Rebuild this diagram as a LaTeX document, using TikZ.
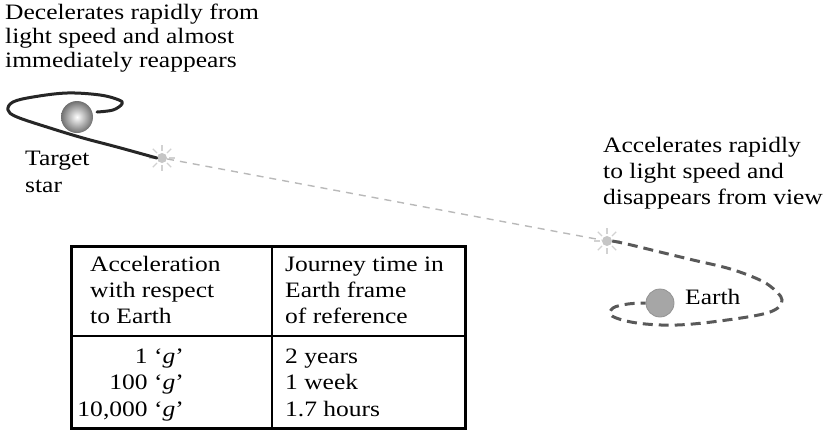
\documentclass[tikz,border=0pt]{standalone}
\usepackage{fontspec}
\setmainfont{Liberation Serif}[FakeStretch=1.16]
\begin{document}
\begin{tikzpicture}[x=1pt,y=-1pt,
  lbl/.style={inner sep=0pt, align=left, font=\fontsize{22}{25}\selectfont},
  flare/.style={circle, fill=gray!45, minimum size=10pt, inner sep=0pt},
  ray/.style={draw=gray!35, line width=1.2pt},
  flight/.style={draw=gray!55, line width=1.4pt, dash pattern=on 7pt off 6pt},
  orbit/.style={draw=black!85, line width=3pt, line cap=round, line join=round},
  homeorbit/.style={draw=black!65, line width=3pt, dash pattern=on 10pt off 6pt},
  rule/.style={line width=1.5pt},
  frame/.style={line width=3pt}]
\useasboundingbox (0,0) rectangle (824,432);

% captions (anchored on the baseline of their last line)
\node[lbl, anchor=base west, font=\fontsize{22}{24}\selectfont] (dec) at (5,67)
  {Decelerates rapidly from\\light speed and almost\\immediately reappears};
\node[lbl, anchor=base west, font=\fontsize{22}{27}\selectfont] (tgt) at (25,192) {Target\\star};
\node[lbl, anchor=base west, font=\fontsize{22}{26}\selectfont] (acc) at (603,204)
  {Accelerates rapidly\\to light speed and\\disappears from view};

% flare points where the ship vanishes and reappears
\node[flare] (s1) at (162,158) {};
\node[flare] (s2) at (607,241) {};
\foreach \s in {s1,s2}
  \foreach \a in {0,45,...,315}
    \draw[ray] (\s) ++(\a:7pt) -- ++(\a:6pt);

% light-speed leg
\draw[flight] (s1) -- (s2);

% target star and the braking loop around it
\draw[orbit] plot[smooth, tension=0.6] coordinates {
  (s1.west) (117,147) (83,138) (50,128) (17,117) (8,110) (13,102) (33,97)
  (67,93) (100,95) (119,100) (122,104) (113,110) (97,112)};
\node[circle, minimum size=32pt, inner sep=0pt, shading=radial,
  inner color=white, outer color=gray!75!black!90] (tstar) at (77,117) {};

% Earth and the departure loop
\node[circle, minimum size=28pt, inner sep=0pt, fill=gray!70, draw=gray!85, line width=0.8pt] (earth) at (660,303) {};
\draw[homeorbit] plot[smooth, tension=0.6] coordinates {
  (s2.east) (627,244) (660,252) (693,260) (727,268) (753,277) (770,286) (782,300)
  (770,312) (727,320) (677,325) (637,323) (612,316) (613,308) (628,304) (earth.west)};
\node[lbl, anchor=base west] (earthlbl) at (685,304) {Earth};

% table of journey times
\coordinate (tl) at (71,246);
\coordinate (br) at (465,428);
\coordinate (colT) at (272,246);
\coordinate (colB) at (272,428);
\coordinate (sepL) at (71,336);
\coordinate (sepR) at (465,336);
\draw[rule] (colT) -- (colB);
\draw[rule] (sepL) -- (sepR);
\draw[frame] (tl) rectangle (br);
\node[lbl, anchor=base west, font=\fontsize{22}{26}\selectfont] (h1) at (90,323)
  {Acceleration\\with respect\\to Earth};
\node[lbl, anchor=base west, font=\fontsize{22}{26}\selectfont] (h2) at (285,323)
  {Journey time in\\Earth frame\\of reference};
\node[lbl, align=right, anchor=base east, font=\fontsize{22}{26.5}\selectfont] (b1) at (184,416)
  {1 ‘\textit{g}’\\100 ‘\textit{g}’\\10,000 ‘\textit{g}’};
\node[lbl, anchor=base west, font=\fontsize{22}{26.5}\selectfont] (b2) at (285,416)
  {2 years\\1 week\\1.7 hours};
\end{tikzpicture}
\end{document}
